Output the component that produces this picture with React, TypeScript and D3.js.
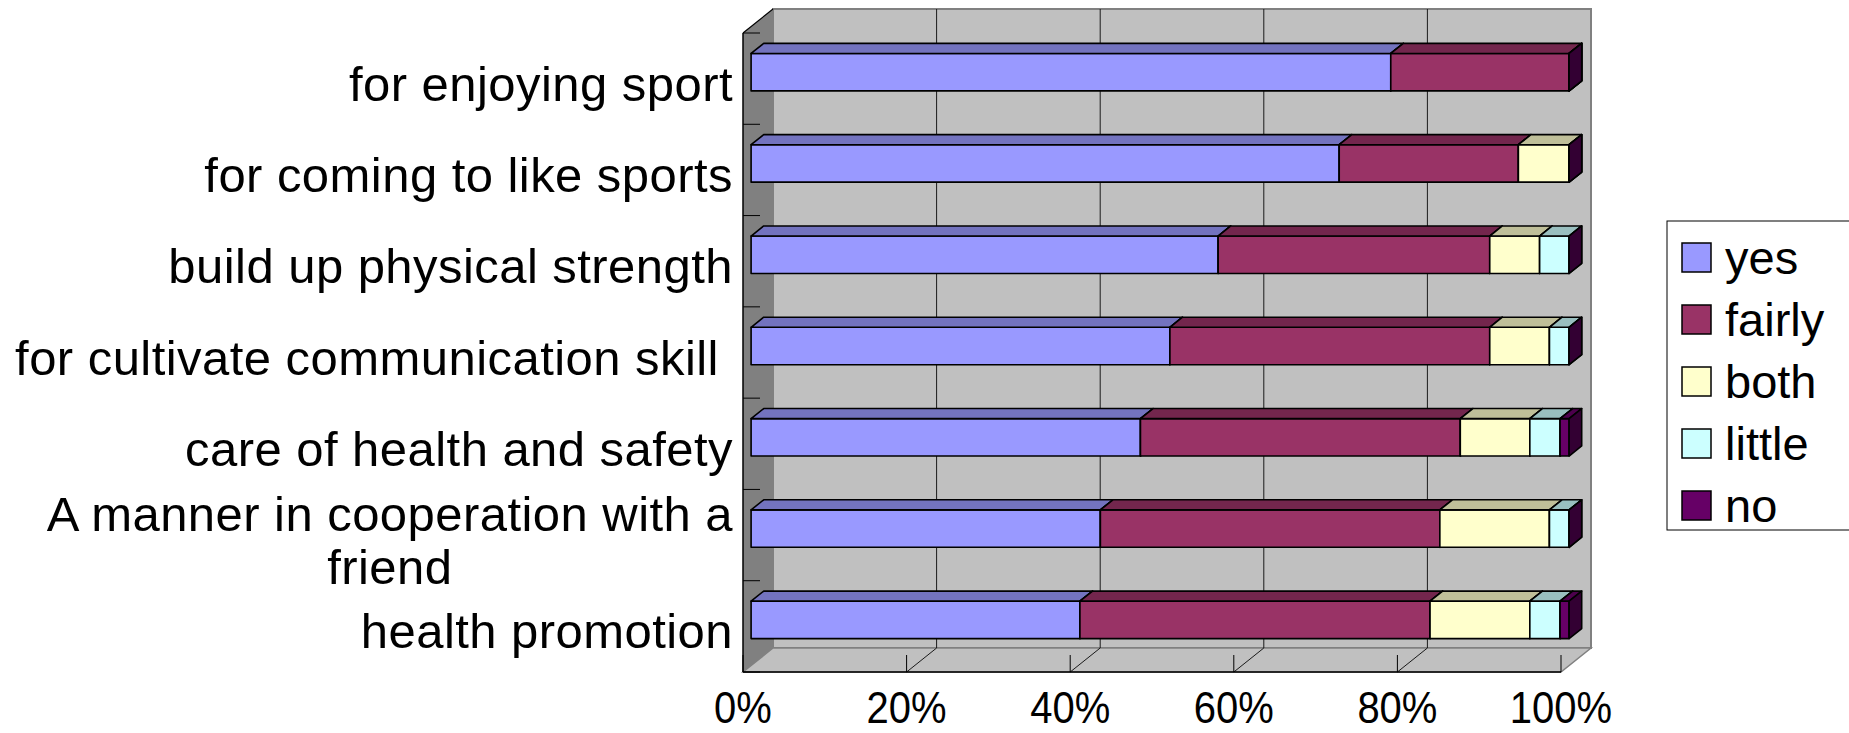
import { useEffect, useRef } from "react";
import * as d3 from "d3";

const categories = [
  "for enjoying sport",
  "for coming to like sports",
  "build up physical strength",
  "for cultivate communication skill ",
  "care of health and safety",
  "A manner in cooperation with a\nfriend",
  "health promotion",
];

const seriesNames = ["yes", "fairly", "both", "little", "no"];
const seriesColors = ["#9999FF", "#993366", "#FFFFCC", "#CCFFFF", "#660066"];

const yes = [78.2, 71.9, 57.1, 51.2, 47.6, 42.7, 40.2];
const fairly = [21.8, 21.9, 33.2, 39.1, 39.1, 41.5, 42.8];
const both = [0, 6.2, 6.1, 7.3, 8.5, 13.4, 12.2];
const little = [0, 0, 3.6, 2.4, 3.7, 2.4, 3.7];
const no = [0, 0, 0, 0, 1.1, 0, 1.1];

const FONT = "'Liberation Sans', Arial, sans-serif";

export default function App() {
  const svgRef = useRef<SVGSVGElement>(null);
  const width = 1849;
  const height = 733;

  useEffect(() => {
    if (!svgRef.current) return;
    const svg = d3.select(svgRef.current);
    svg.selectAll("*").remove();

    // front plane of the 3D box and depth vector
    const front = { left: 743, right: 1561, top: 33, bottom: 672 };
    const DX = 30;
    const DY = -24;
    const f0 = 0.27; // bar front depth
    const f1 = 0.69; // bar back depth

    const rows = categories.map((c, i) => ({
      cat: c,
      yes: yes[i],
      fairly: fairly[i],
      both: both[i],
      little: little[i],
      no: no[i],
    }));
    const stacked = d3
      .stack<any>()
      .keys(seriesNames)
      .offset(d3.stackOffsetExpand)(rows);

    const x = d3.scaleLinear().domain([0, 1]).range([front.left, front.right]);
    const y = d3
      .scaleBand()
      .domain(categories)
      .range([front.top, front.bottom])
      .paddingInner(0.59)
      .paddingOuter(0.295);
    const step = y.step();

    const g = svg.append("g");

    // side wall
    g.append("polygon")
      .attr(
        "points",
        [
          [front.left, front.top],
          [front.left + DX, front.top + DY],
          [front.left + DX, front.bottom + DY],
          [front.left, front.bottom],
        ].join(" ")
      )
      .attr("fill", "#808080")
      .attr("stroke", "none");

    // back wall
    g.append("rect")
      .attr("x", front.left + DX)
      .attr("y", front.top + DY)
      .attr("width", front.right - front.left)
      .attr("height", front.bottom - front.top)
      .attr("fill", "#C0C0C0")
      .attr("stroke", "#808080")
      .attr("stroke-width", 2);

    // floor
    g.append("polygon")
      .attr(
        "points",
        [
          [front.left, front.bottom],
          [front.left + DX, front.bottom + DY],
          [front.right + DX, front.bottom + DY],
          [front.right, front.bottom],
        ].join(" ")
      )
      .attr("fill", "#C0C0C0")
      .attr("stroke", "#808080")
      .attr("stroke-width", 1.5);

    const ticks = x.ticks(5);

    // grid lines on back wall and floor
    ticks.forEach((t) => {
      if (t === 0 || t === 1) return;
      g.append("line")
        .attr("x1", x(t) + DX)
        .attr("x2", x(t) + DX)
        .attr("y1", front.top + DY)
        .attr("y2", front.bottom + DY)
        .attr("stroke", "#1a1a1a")
        .attr("stroke-width", 1);
      g.append("line")
        .attr("x1", x(t) + DX)
        .attr("y1", front.bottom + DY)
        .attr("x2", x(t))
        .attr("y2", front.bottom)
        .attr("stroke", "#1a1a1a")
        .attr("stroke-width", 1);
    });

    // front edges
    g.append("line")
      .attr("x1", front.left)
      .attr("y1", front.top)
      .attr("x2", front.left)
      .attr("y2", front.bottom)
      .attr("stroke", "#000")
      .attr("stroke-width", 1.5);
    g.append("line")
      .attr("x1", front.left)
      .attr("y1", front.top)
      .attr("x2", front.left + DX)
      .attr("y2", front.top + DY)
      .attr("stroke", "#000")
      .attr("stroke-width", 1.2);
    g.append("line")
      .attr("x1", front.left)
      .attr("y1", front.bottom)
      .attr("x2", front.right)
      .attr("y2", front.bottom)
      .attr("stroke", "#000")
      .attr("stroke-width", 1.5);

    // ticks on front bottom edge
    ticks.forEach((t) => {
      g.append("line")
        .attr("x1", x(t))
        .attr("x2", x(t))
        .attr("y1", front.bottom - 17)
        .attr("y2", front.bottom)
        .attr("stroke", "#000")
        .attr("stroke-width", 1);
    });

    // category ticks on side wall
    d3.range(categories.length + 1).forEach((i) => {
      const yy = front.top + i * step;
      g.append("line")
        .attr("x1", front.left)
        .attr("x2", front.left + 17)
        .attr("y1", yy)
        .attr("y2", yy)
        .attr("stroke", "#000")
        .attr("stroke-width", 1);
    });

    // bars
    const shade = (c: string, k: number) => {
      const col = d3.rgb(c);
      return d3.rgb(col.r * k, col.g * k, col.b * k).formatHex();
    };
    const ax = f0 * DX,
      ay = f0 * DY,
      bx = f1 * DX,
      by = f1 * DY;

    categories.forEach((cat, i) => {
      const yt = y(cat)!;
      const yb = yt + y.bandwidth();
      stacked.forEach((s, si) => {
        const d = s[i];
        const xa = x(d[0]);
        const xb = x(d[1]);
        const color = seriesColors[si];
        const bar = g
          .append("g")
          .attr("stroke", "#000")
          .attr("stroke-width", 1.6)
          .attr("stroke-linejoin", "round");
        if (xb - xa > 0.01) {
          bar
            .append("rect")
            .attr("x", xa + ax)
            .attr("y", yt + ay)
            .attr("width", xb - xa)
            .attr("height", yb - yt)
            .attr("fill", color);
          bar
            .append("polygon")
            .attr(
              "points",
              [
                [xa + ax, yt + ay],
                [xa + bx, yt + by],
                [xb + bx, yt + by],
                [xb + ax, yt + ay],
              ].join(" ")
            )
            .attr("fill", shade(color, 0.75));
        }
        bar
          .append("polygon")
          .attr(
            "points",
            [
              [xb + ax, yt + ay],
              [xb + bx, yt + by],
              [xb + bx, yb + by],
              [xb + ax, yb + ay],
            ].join(" ")
          )
          .attr("fill", shade(color, 0.5));
      });
    });

    // x tick labels (slightly condensed look)
    ticks.forEach((t) => {
      g.append("text")
        .attr("transform", `translate(${x(t)},723) scale(1,1.1)`)
        .attr("text-anchor", "middle")
        .attr("font-family", FONT)
        .attr("font-size", 40)
        .attr("fill", "#000")
        .text(d3.format(".0%")(t));
    });

    // category labels
    const labelRight = 733;
    const lineH = 53;
    categories.forEach((cat) => {
      const lines = cat.split("\n");
      const cy = y(cat)! + y.bandwidth() / 2;
      const base = cy + 22 - ((lines.length - 1) * lineH) / 2;
      const first = g
        .append("text")
        .attr("x", labelRight)
        .attr("y", base)
        .attr("text-anchor", "end")
        .attr("font-family", FONT)
        .attr("font-size", 49)
        .attr("letter-spacing", 0.45)
        .attr("fill", "#000")
        .style("white-space", "pre")
        .text(lines[0]);
      if (lines.length > 1) {
        const w = (first.node() as SVGTextElement).getComputedTextLength();
        lines.slice(1).forEach((ln, li) => {
          g.append("text")
            .attr("x", labelRight - w / 2)
            .attr("y", base + (li + 1) * lineH)
            .attr("text-anchor", "middle")
            .attr("font-family", FONT)
            .attr("font-size", 49)
            .attr("letter-spacing", 0.45)
            .attr("fill", "#000")
            .text(ln);
        });
      }
    });

    // legend
    const lg = g.append("g");
    lg.append("rect")
      .attr("x", 1667)
      .attr("y", 221)
      .attr("width", 260)
      .attr("height", 309)
      .attr("fill", "#fff")
      .attr("stroke", "#000")
      .attr("stroke-width", 1);
    seriesNames.forEach((name, i) => {
      const cy = 257.5 + i * 62;
      lg.append("rect")
        .attr("x", 1682)
        .attr("y", cy - 14.5)
        .attr("width", 29)
        .attr("height", 29)
        .attr("fill", seriesColors[i])
        .attr("stroke", "#000")
        .attr("stroke-width", 1.5);
      lg.append("text")
        .attr("x", 1725)
        .attr("y", cy + 16)
        .attr("font-family", FONT)
        .attr("font-size", 47)
        .attr("fill", "#000")
        .text(name);
    });
  }, []);

  return (
    <svg
      ref={svgRef}
      width={width}
      height={height}
      style={{ position: "absolute", left: 0, top: 0, background: "#fff" }}
    />
  );
}
